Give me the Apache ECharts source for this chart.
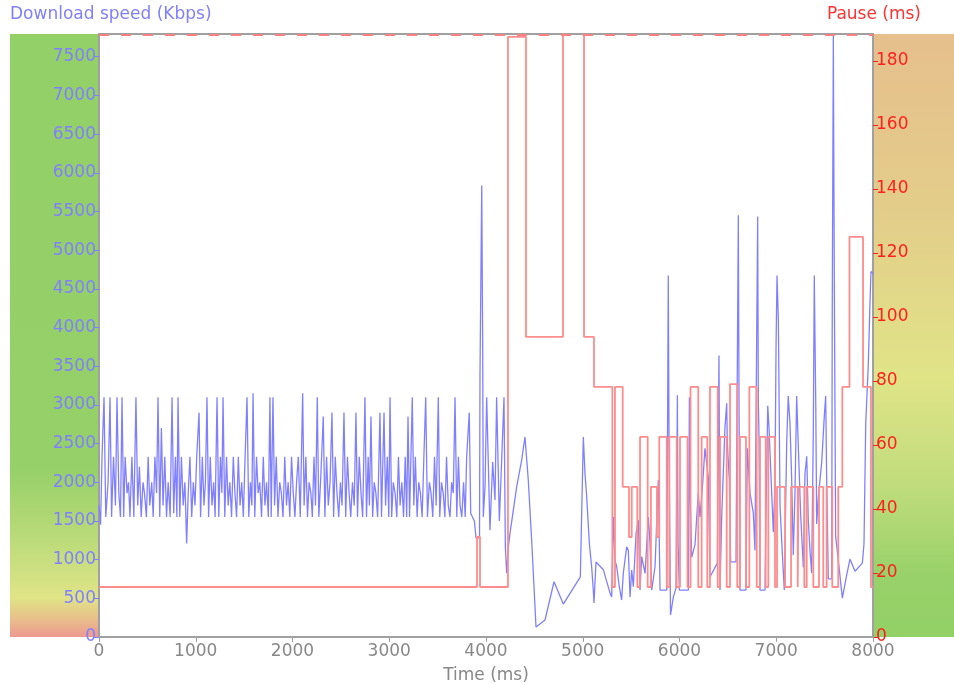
<!DOCTYPE html>
<html>
<head>
<meta charset="utf-8">
<script src="https://cdn.jsdelivr.net/npm/echarts@6/dist/echarts.min.js"></script>
<style>
html,body{margin:0;padding:0;background:#fff;}
#chart{width:954px;height:684px;}
</style>
</head>
<body>
<div id="chart"></div>
<script>
// Download speed (Kbps) samples: [time ms, Kbps]
const speedData = [
[0,1700],[16,1450],[31,2330],[52,3100],[70,1550],[94,2000],[114,3100],[130,1550],[150,2330],[170,1700],
[186,3100],[205,1860],[222,1550],[238,3100],[255,1550],[270,2330],[290,1860],[305,2000],[320,1550],[340,2330],
[360,1550],[382,3100],[400,1700],[418,2200],[436,1550],[455,2000],[470,1860],[490,1550],[508,2330],[525,1700],
[545,2000],[560,1550],[578,2330],[595,1860],[610,3100],[628,1550],[645,2700],[662,1700],[680,2330],[698,1550],
[715,2000],[735,1550],[755,3100],[772,1600],[790,2330],[805,1550],[817,3100],[835,1550],[852,2330],[870,1700],
[888,2000],[906,1210],[922,1860],[940,2330],[958,1550],[975,2000],[992,1700],[1010,2330],[1034,2900],[1050,1550],
[1068,2330],[1085,1700],[1100,2000],[1116,3100],[1133,1550],[1150,2330],[1168,1700],[1185,2000],[1200,1550],[1220,3100],
[1238,1550],[1255,2330],[1270,1860],[1282,3100],[1300,1550],[1318,2330],[1335,1700],[1352,2000],[1370,1550],[1388,2330],
[1405,1860],[1422,1550],[1440,2330],[1458,1700],[1475,2000],[1492,1550],[1510,2330],[1530,3100],[1548,1550],[1565,2000],
[1580,1700],[1592,3150],[1610,1550],[1628,2330],[1645,1860],[1662,2000],[1680,1550],[1698,2330],[1715,1700],[1732,2000],
[1750,1550],[1767,3100],[1780,1550],[1798,3100],[1815,1700],[1832,2330],[1850,1550],[1868,2000],[1885,1860],[1902,1550],
[1920,2330],[1938,1700],[1955,2000],[1972,1550],[1990,2330],[2008,1860],[2025,1550],[2042,2000],[2060,2330],[2080,1550],
[2105,3150],[2120,1700],[2138,2330],[2155,1550],[2172,2000],[2190,1860],[2205,1550],[2222,2330],[2238,1700],[2256,3100],
[2272,1550],[2290,2000],[2318,2850],[2335,1550],[2352,2330],[2370,1700],[2388,2000],[2408,2900],[2425,1550],[2442,2330],
[2460,1860],[2478,1550],[2495,2000],[2512,1700],[2532,2900],[2550,1550],[2568,2330],[2585,1860],[2602,1550],[2620,2000],
[2638,1700],[2656,2900],[2672,1550],[2690,2330],[2708,1860],[2725,1550],[2749,3100],[2765,1550],[2782,2330],[2795,1700],
[2811,2850],[2828,1550],[2845,2000],[2862,1860],[2880,1550],[2904,2900],[2920,1550],[2946,2900],[2962,1700],[2980,2330],
[2995,1550],[3008,3100],[3025,1550],[3042,2000],[3060,1860],[3078,1550],[3095,2330],[3112,1700],[3130,2000],[3148,1550],
[3165,2330],[3180,1550],[3194,2850],[3210,1550],[3238,3100],[3254,1700],[3270,2330],[3288,1550],[3305,2000],[3322,1860],
[3340,1550],[3358,2330],[3377,3100],[3395,1550],[3415,2000],[3432,1860],[3450,1550],[3468,2330],[3485,1700],[3507,3100],
[3522,1550],[3540,2000],[3558,1860],[3575,1550],[3592,2330],[3610,1700],[3628,1550],[3645,2000],[3662,1860],[3680,3100],
[3698,1550],[3715,2330],[3732,1700],[3750,1550],[3768,2000],[3785,1550],[3800,2330],[3827,2900],[3842,1600],[3860,1550],
[3880,1500],[3897,1280],[3933,1280],[3938,3400],[3956,5835],[3966,3670],[3972,1550],[3990,1940],[4007,3100],[4041,1380],
[4069,2260],[4093,1770],[4110,3100],[4138,1500],[4162,2290],[4186,3100],[4200,1165],[4214,825],[4231,1165],[4248,1340],
[4317,1940],[4369,2290],[4403,2585],[4437,2030],[4472,1250],[4517,130],[4610,220],[4703,714],[4799,426],[4975,778],
[5006,2585],[5023,2117],[5041,1810],[5068,1213],[5092,908],[5109,607],[5116,440],[5137,970],[5213,870],[5282,568],
[5299,517],[5316,1550],[5333,994],[5351,908],[5378,650],[5402,478],[5419,822],[5454,1165],[5471,1120],[5489,517],
[5506,865],[5523,650],[5551,1340],[5575,1510],[5592,607],[5609,1040],[5644,822],[5678,1550],[5695,1213],[5713,607],
[5747,908],[5781,2030],[5799,607],[5868,607],[5884,4673],[5892,2480],[5907,284],[5936,516],[5964,632],[5978,3125],
[5985,1213],[5999,607],[6092,607],[6102,3100],[6109,1860],[6126,1030],[6160,1190],[6194,1860],[6212,1550],[6240,1990],
[6263,2440],[6298,2065],[6315,775],[6391,955],[6408,3640],[6419,607],[6436,1550],[6470,2710],[6488,3020],[6494,2505],
[6515,2030],[6529,970],[6584,970],[6608,5450],[6615,3060],[6625,607],[6687,607],[6701,2440],[6729,1860],[6763,1600],
[6780,1120],[6808,5435],[6815,3015],[6822,2563],[6832,607],[6884,607],[6891,1355],[6912,2990],[6925,2710],[6946,2060],
[6970,1355],[6987,2010],[6998,3770],[7008,4673],[7022,4090],[7039,1700],[7056,1250],[7083,607],[7108,2520],[7124,3114],
[7142,2763],[7159,2060],[7176,1060],[7194,1880],[7211,3114],[7228,2466],[7253,1560],[7280,900],[7297,2110],[7315,2337],
[7331,1510],[7349,1110],[7366,826],[7383,2660],[7393,4673],[7408,3060],[7418,1460],[7435,1810],[7470,2260],[7497,2865],
[7511,3114],[7521,2060],[7538,750],[7573,750],[7579,4270],[7590,7780],[7600,4620],[7614,1300],[7641,1000],[7683,503],
[7728,800],[7762,1007],[7814,850],[7890,955],[7907,1205],[7925,2763],[7951,3510],[7969,4325],[7979,4725],[8000,4700]
];

// Pause (ms): [start time ms, pause level held until the next point]
const pauseData = [
[0,15.625],[3907,31.25],[3938,15.625],[4227,187.5],[4413,93.75],[4796,203.125],[5013,93.75],[5116,78.125],
[5306,15.625],[5333,78.125],[5413,46.875],[5478,31.25],[5506,46.875],[5564,15.625],[5592,62.5],[5671,15.625],
[5705,46.875],[5767,31.25],[5791,62.5],[5868,15.625],[5895,62.5],[5971,15.625],[6005,62.5],[6083,15.625],
[6114,78.125],[6194,15.625],[6229,62.5],[6287,15.625],[6315,78.125],[6395,15.625],[6419,62.5],[6488,15.625],
[6522,79],[6597,15.625],[6625,62.5],[6687,15.625],[6722,78.125],[6798,15.625],[6832,62.5],[6891,15.625],
[6918,62.5],[6987,15.625],[7008,46.875],[7091,15.625],[7153,46.875],[7222,15.625],[7230,46.875],[7290,15.625],
[7315,46.875],[7383,15.625],[7442,46.875],[7486,15.625],[7521,46.875],[7579,15.625],[7641,46.875],[7683,78.125],
[7757,125],[7897,78.125],[7979,15.625],[8000,15.625]
];

const pauseLimit = [188.1];

const speedAxis = {name: 'Download speed (Kbps)', min: 0, max: 7794, step: 500};
const pauseAxis = {name: 'Pause (ms)', min: 0, max: 188.4, step: 20};
const timeAxis = {name: 'Time (ms)', min: 0, max: 8000, step: 1000};

const FONT = 'DejaVu Sans';
const GL = 99, GR = 81, GT = 34, GB = 47, W = 954, H = 684;
const plain = v => String(v);

const chart = echarts.init(document.getElementById('chart'), null, {renderer: 'canvas'});

const option = {
  animation: false,
  backgroundColor: '#ffffff',
  textStyle: {fontFamily: FONT},
  title: [
    {text: speedAxis.name, left: 10, top: 6, padding: 0,
     textStyle: {color: '#8080ff', fontSize: 17, fontWeight: 'normal', fontFamily: FONT}},
    {text: pauseAxis.name, right: 33, top: 6, padding: 0,
     textStyle: {color: '#ff3333', fontSize: 17, fontWeight: 'normal', fontFamily: FONT}}
  ],
  graphic: [
    {type: 'rect', silent: true, z: -10,
     shape: {x: 10, y: GT, width: GL - 10, height: H - GT - GB},
     style: {fill: new echarts.graphic.LinearGradient(0, 0, 0, 1, [
       {offset: 0, color: '#93d067'},
       {offset: 0.72, color: '#95d068'},
       {offset: 0.81, color: '#b2d875'},
       {offset: 0.88, color: '#cadf80'},
       {offset: 0.935, color: '#e0e487'},
       {offset: 0.97, color: '#e8bf8a'},
       {offset: 1, color: '#ee9890'}
     ])}},
    {type: 'rect', silent: true, z: -10,
     shape: {x: W - GR, y: GT, width: GR, height: H - GT - GB},
     style: {fill: new echarts.graphic.LinearGradient(0, 0, 0, 1, [
       {offset: 0, color: '#e6bf8c'},
       {offset: 0.3, color: '#e3cd8a'},
       {offset: 0.57, color: '#e0e487'},
       {offset: 0.75, color: '#c0dc7c'},
       {offset: 0.9, color: '#98d169'},
       {offset: 1, color: '#92d066'}
     ])}}
  ],
  grid: {left: GL, right: GR, top: GT, bottom: GB, show: true, containLabel: false,
         outerBoundsMode: 'none',
         borderColor: '#a0a0a0', borderWidth: 2, backgroundColor: '#ffffff'},
  xAxis: {
    type: 'value', min: timeAxis.min, max: timeAxis.max, interval: timeAxis.step,
    name: timeAxis.name, nameLocation: 'middle', nameGap: 30,
    nameTextStyle: {color: '#888888', fontSize: 17, fontFamily: FONT},
    axisLine: {show: true, lineStyle: {color: '#a0a0a0', width: 2}},
    axisTick: {show: true, length: 5, lineStyle: {color: '#a0a0a0'}},
    axisLabel: {color: '#888888', fontSize: 17, margin: 6, fontFamily: FONT, formatter: plain},
    splitLine: {show: false}
  },
  yAxis: [
    {
      type: 'value', min: speedAxis.min, max: speedAxis.max, interval: speedAxis.step, position: 'left',
      axisLine: {show: true, lineStyle: {color: '#a0a0a0', width: 2}},
      axisTick: {show: true, length: 5, lineStyle: {color: '#8080ff'}},
      axisLabel: {color: '#8080ff', fontSize: 17, margin: 3, showMaxLabel: false, fontFamily: FONT, formatter: plain},
      splitLine: {show: false}
    },
    {
      type: 'value', min: pauseAxis.min, max: pauseAxis.max, interval: pauseAxis.step, position: 'right',
      axisLine: {show: true, lineStyle: {color: '#a0a0a0', width: 2}},
      axisTick: {show: true, length: 5, lineStyle: {color: '#ff2020'}},
      axisLabel: {color: '#ff2020', fontSize: 17, margin: 3, showMaxLabel: false, fontFamily: FONT, formatter: plain},
      splitLine: {show: false}
    }
  ],
  series: [
    {
      name: speedAxis.name, type: 'line', yAxisIndex: 0, data: speedData,
      symbol: 'none', showSymbol: false, z: 2,
      lineStyle: {color: '#8080ff', width: 1.3}
    },
    {
      name: pauseAxis.name, type: 'line', yAxisIndex: 1, data: pauseData, step: 'end',
      symbol: 'none', showSymbol: false, z: 3,
      lineStyle: {color: '#ff8c8c', width: 1.8},
      markLine: {
        silent: true, symbol: 'none', label: {show: false},
        lineStyle: {color: '#ff8080', type: [10, 12], width: 2},
        data: pauseLimit.map(v => ({yAxis: v}))
      }
    }
  ]
};
chart.setOption(option);
</script>
</body>
</html>
